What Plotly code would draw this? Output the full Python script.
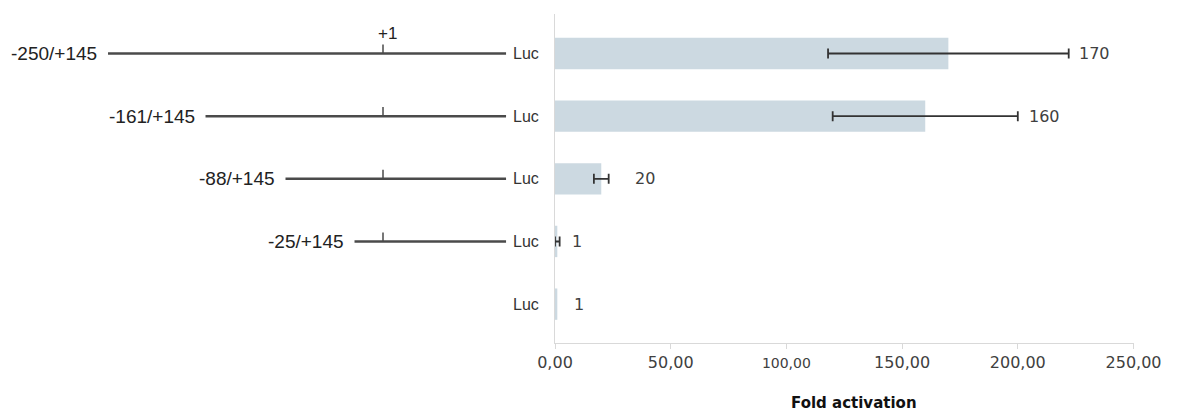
import plotly.graph_objects as go

# ---------------- data ----------------
constructs = ["-250/+145", "-161/+145", "-88/+145", "-25/+145", ""]
promoter_start = [-250, -161, -88, -25, None]      # bp upstream of +1 (None = promoterless)
promoter_end = 145                                  # bp downstream (+145)
fold_activation = [170, 160, 20, 1, 1]
fold_error = [52, 40, 3.2, 1, None]
labels = ["170", "160", "20", "1", "1"]

x_ticks = [0, 50, 100, 150, 200, 250]
x_ticktext = ["0,00", "50,00", "<span style='font-size:14px'>100,00</span>",
              "150,00", "200,00", "250,00"]

# ---------------- styling constants ----------------
# the page body has an 8px margin, so the figure is drawn 8px smaller and offset
OFF = 8
W, H = 1178 - OFF, 413 - OFF
PLOT_L, PLOT_R = 555 - OFF, 1133.5 - OFF
DOWNSTREAM_SCALE = 0.78      # schematic not to scale downstream of +1
LABEL_GAP = [8, 9, 24, 10, 15]
BAR_COLOR = "#ccd9e1"
LINE_COLOR = "#4a4a4a"

rows = list(range(len(constructs)))

fig = go.Figure()

# bars
fig.add_trace(go.Bar(
    x=fold_activation, y=rows, orientation="h", width=0.5,
    marker=dict(color=BAR_COLOR, line=dict(width=0)),
    hoverinfo="skip",
))

# error bars only where an error exists
ex = [v for v, e in zip(fold_activation, fold_error) if e is not None]
ey = [r for r, e in zip(rows, fold_error) if e is not None]
ee = [e for e in fold_error if e is not None]
fig.add_trace(go.Scatter(
    x=ex, y=ey, mode="markers", marker=dict(size=1, opacity=0),
    error_x=dict(type="data", array=ee, visible=True,
                 color="#333333", thickness=1.8, width=5),
    hoverinfo="skip",
))

# promoter schematics (secondary x axis in bp units)
lx, ly, tx, ty = [], [], [], []
end_x = 1 + (promoter_end - 1) * DOWNSTREAM_SCALE
for r, s in zip(rows, promoter_start):
    if s is None:
        continue
    lx += [s, end_x, None]
    ly += [r, r, None]
    tx += [1, 1, None]
    ty += [r, r - 0.145, None]
fig.add_trace(go.Scatter(x=lx, y=ly, xaxis="x2", yaxis="y", mode="lines",
                         line=dict(color=LINE_COLOR, width=2.5), hoverinfo="skip"))
fig.add_trace(go.Scatter(x=tx, y=ty, xaxis="x2", yaxis="y", mode="lines",
                         line=dict(color=LINE_COLOR, width=1.5), hoverinfo="skip"))

annotations = []
for r, s, name in zip(rows, promoter_start, constructs):
    if s is None:
        continue
    annotations.append(dict(x=s, y=r, xref="x2", yref="y", text=name, showarrow=False,
                            xanchor="right", yanchor="middle", xshift=-9,
                            font=dict(family="Liberation Sans, Arial", size=19, color="#222222")))
annotations.append(dict(x=1, y=0, xref="x2", yref="y", text="+1", showarrow=False,
                        xanchor="center", yanchor="middle", xshift=4, yshift=20,
                        font=dict(family="Liberation Sans, Arial", size=17, color="#222222")))

# value labels
for r, v, e, lab, gap in zip(rows, fold_activation, fold_error, labels, LABEL_GAP):
    annotations.append(dict(x=v + (e or 0), y=r, xref="x", yref="y", text=lab, showarrow=False,
                            xanchor="left", yanchor="middle", xshift=gap,
                            font=dict(family="DejaVu Sans", size=16, color="#404040")))

annotations.append(dict(x=(854 - OFF) / W, y=(343 - 403) / 329, xref="paper", yref="paper",
                        text="<b>Fold activation</b>", showarrow=False,
                        xanchor="center", yanchor="middle",
                        font=dict(family="DejaVu Sans", size=15, color="#111111")))

fig.update_layout(
    width=W, height=H,
    margin=dict(l=0, r=0, t=14 - OFF, b=70, pad=0, autoexpand=False),
    paper_bgcolor="white", plot_bgcolor="white",
    showlegend=False,
    xaxis=dict(domain=[PLOT_L / W, PLOT_R / W], range=[0, 250], anchor="y",
               tickvals=x_ticks, ticktext=x_ticktext, automargin=False,
               showline=True, linecolor="#d9d9d9", linewidth=1,
               ticks="outside", ticklen=5, tickcolor="#d9d9d9",
               showgrid=False, zeroline=False, ticklabelstandoff=0,
               tickfont=dict(family="DejaVu Sans", size=16, color="#404040")),
    xaxis2=dict(domain=[0, PLOT_L / W], range=[-341.3, 158], anchor="y",
                visible=False, automargin=False),
    yaxis=dict(domain=[0, 1], range=[4.62, -0.63], anchor="x", automargin=False,
               tickvals=rows, ticktext=["Luc"] * len(rows),
               showline=True, linecolor="#d9d9d9", linewidth=1,
               ticks="", showgrid=False, zeroline=False, ticklabelstandoff=12,
               tickfont=dict(family="Liberation Sans, Arial", size=16, color="#333333")),
    annotations=annotations,
)

fig.write_html("out.html")
